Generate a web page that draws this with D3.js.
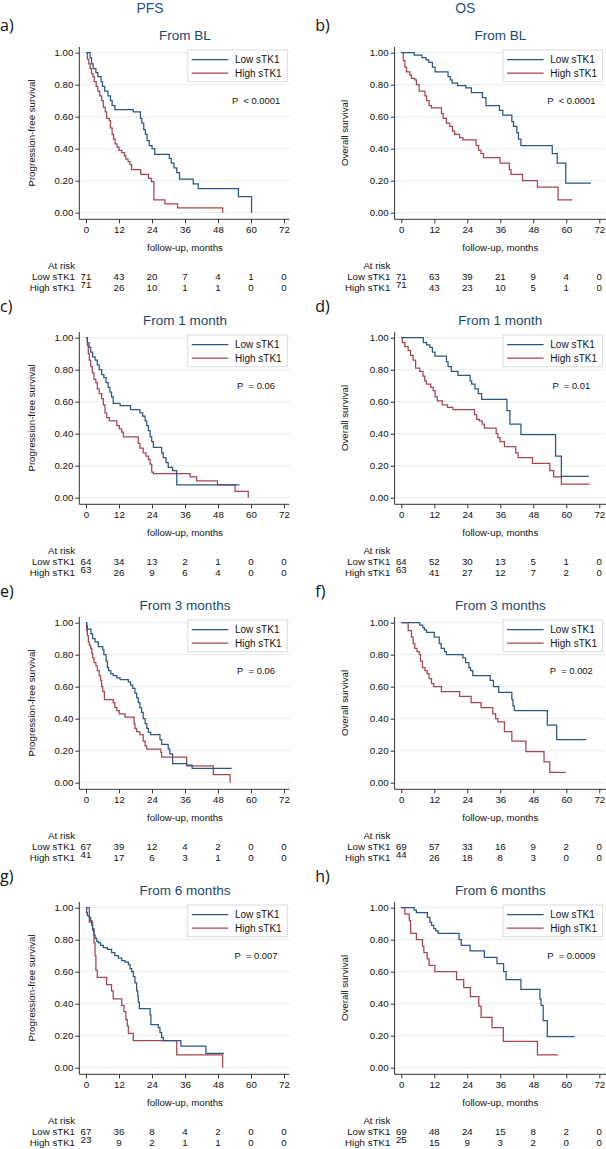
<!DOCTYPE html>
<html><head><meta charset="utf-8">
<script src="https://cdn.jsdelivr.net/npm/d3@7"></script>
<style>
html,body{margin:0;padding:0;background:#fff;}
svg{display:block;}
svg text{font-family:"Liberation Sans",Arial,Helvetica,sans-serif;}
svg text.plabel{font-family:"Open Sans","Noto Sans",sans-serif;}
</style></head>
<body>
<svg id="chart" width="606" height="1149"></svg>
<script>
// ---------- data ----------
const tickMonths = [0, 12, 24, 36, 48, 60, 72];
const yTicks = [0, 0.2, 0.4, 0.6, 0.8, 1];
const columnHeaders = ["PFS", "OS"];
const yAxisTitles = ["Progression-free survival", "Overall survival"];
const panelLabels = ["a)", "b)", "c)", "d)", "e)", "f)", "g)", "h)"];
const panelTitles = ["From BL", "From BL", "From 1 month", "From 1 month", "From 3 months", "From 3 months", "From 6 months", "From 6 months"];
const pValues = ["P\u00a0 < 0.0001", "P\u00a0 < 0.0001", "P\u00a0 = 0.06", "P\u00a0 = 0.01", "P\u00a0 = 0.06", "P\u00a0 = 0.002", "P\u00a0 = 0.007", "P\u00a0 = 0.0009"];
const groups = ["Low sTK1", "High sTK1"];

// Kaplan-Meier steps: [month, survival after step]; last pair = end of follow-up
const lowA = [[1.5,0.97],[2,0.93],[2.6,0.90],[3.6,0.875],[4.3,0.85],[5.5,0.82],[6,0.79],[6.8,0.76],[8,0.73],[8.9,0.70],[9.5,0.67],[10.5,0.645],[17.2,0.63],[19.8,0.59],[20.3,0.56],[21,0.52],[21.6,0.49],[22.2,0.45],[23,0.42],[24,0.40],[25,0.365],[30.3,0.34],[31,0.31],[32,0.28],[33,0.25],[34,0.21],[39,0.18],[40.8,0.15],[55.4,0.10],[60.2,0]];
const highA = [[0.5,0.96],[1,0.93],[1.5,0.90],[2,0.87],[2.5,0.85],[3,0.82],[3.7,0.79],[4.3,0.76],[5,0.73],[5.7,0.70],[6.3,0.66],[7,0.63],[7.5,0.59],[8.5,0.575],[8.9,0.53],[9.5,0.49],[10,0.46],[10.6,0.43],[11.3,0.41],[12,0.39],[13,0.375],[14,0.355],[14.5,0.335],[15.3,0.32],[16,0.30],[16.6,0.27],[19.9,0.24],[22.7,0.215],[23.8,0.195],[24.7,0.08],[28.7,0.055],[33.3,0.03],[49.7,0]];
const lowB = [[4.7,0.985],[7.5,0.97],[9,0.955],[10,0.94],[11.3,0.91],[12.3,0.88],[17,0.85],[17.8,0.83],[18.5,0.81],[20.5,0.795],[23.5,0.78],[25.5,0.75],[29.5,0.72],[30.8,0.67],[35.7,0.64],[36.9,0.61],[40.2,0.57],[40.8,0.54],[42,0.50],[42.6,0.46],[43.5,0.42],[54.9,0.37],[56.7,0.31],[59.8,0.185],[69,0.185]];
const highB = [[0.7,0.95],[1.3,0.91],[1.9,0.88],[3.1,0.86],[3.7,0.84],[4.9,0.83],[5.5,0.80],[6.5,0.76],[8.6,0.73],[9.2,0.70],[10.1,0.67],[11,0.655],[14.6,0.62],[15.2,0.59],[16.4,0.56],[17.6,0.54],[18.6,0.51],[19.4,0.49],[21.2,0.47],[22.4,0.455],[27.2,0.42],[28.1,0.39],[29,0.37],[29.9,0.345],[35.9,0.31],[39.3,0.27],[39.9,0.24],[44.1,0.20],[49.5,0.16],[57,0.08],[62.2,0.08]];
const lowC = [[0.5,0.97],[1.1,0.94],[1.7,0.91],[2.4,0.88],[3.3,0.86],[4.1,0.83],[4.8,0.80],[5.7,0.77],[6.5,0.75],[7.3,0.72],[8.1,0.69],[8.7,0.66],[9.3,0.63],[9.9,0.59],[12.4,0.575],[16.2,0.55],[19.6,0.53],[20.6,0.51],[21.5,0.48],[22.1,0.45],[22.7,0.42],[23.3,0.38],[23.9,0.35],[24.5,0.315],[27.5,0.28],[28.1,0.25],[29.1,0.22],[29.9,0.19],[31.5,0.17],[33,0.08],[55.8,0.08]];
const highC = [[0.5,0.95],[0.85,0.90],[1.2,0.86],[1.7,0.82],[2.3,0.78],[2.9,0.74],[3.6,0.72],[4.1,0.68],[4.8,0.65],[5.7,0.62],[6.3,0.58],[6.9,0.53],[7.5,0.50],[8.5,0.48],[11.2,0.45],[12.1,0.43],[13,0.41],[13.6,0.38],[19,0.34],[19.6,0.31],[20.8,0.28],[21.8,0.26],[22.7,0.24],[23.3,0.21],[23.9,0.16],[24.5,0.15],[37.8,0.13],[40.2,0.105],[47.8,0.08],[54.2,0.04],[59,0]];
const lowD = [[8,0.97],[9.2,0.955],[10.4,0.94],[11.3,0.91],[12.2,0.885],[16.4,0.85],[17,0.82],[18.2,0.79],[20.6,0.765],[25,0.73],[25.6,0.71],[26.8,0.68],[28,0.65],[29.2,0.615],[38.4,0.545],[39.5,0.46],[43.5,0.395],[56.1,0.26],[58.2,0.133],[68.2,0.133]];
const highD = [[0.4,0.97],[1.3,0.945],[2.5,0.92],[3.4,0.89],[4.3,0.86],[5.2,0.81],[6.7,0.79],[7.9,0.76],[8.5,0.73],[9.1,0.71],[10.7,0.69],[11.6,0.67],[12.3,0.63],[13.1,0.605],[14.9,0.58],[16.8,0.565],[18.8,0.55],[26.6,0.52],[27.4,0.49],[28.4,0.48],[29.4,0.46],[30.2,0.435],[34.5,0.40],[35.1,0.375],[35.9,0.35],[37.5,0.32],[41.6,0.28],[42.5,0.25],[47.7,0.215],[54,0.17],[55.4,0.13],[58.2,0.085],[68.5,0.085]];
const lowE = [[0.24,0.98],[0.5,0.96],[1.8,0.93],[2.4,0.90],[3.3,0.88],[4.5,0.85],[6.1,0.83],[6.5,0.80],[7.3,0.76],[7.8,0.72],[8.2,0.70],[9,0.68],[9.9,0.67],[11.2,0.655],[12.4,0.645],[15.4,0.63],[16.2,0.61],[17,0.59],[17.8,0.56],[18.4,0.53],[19,0.50],[19.6,0.47],[20.2,0.44],[20.8,0.40],[21.5,0.37],[22.1,0.34],[22.7,0.315],[23.5,0.30],[26.9,0.27],[27.5,0.24],[29.9,0.21],[30.5,0.18],[31.5,0.12],[36.6,0.11],[38.6,0.09],[53,0.09]];
const highE = [[0.24,0.95],[0.5,0.92],[0.85,0.88],[1.2,0.86],[1.7,0.84],[2.1,0.81],[2.4,0.78],[2.9,0.75],[3.6,0.73],[4.1,0.70],[4.8,0.67],[5.3,0.64],[5.7,0.60],[6.1,0.57],[6.7,0.52],[9.9,0.50],[10.5,0.47],[11.2,0.45],[12.1,0.43],[14.2,0.41],[17.5,0.37],[17.8,0.34],[18.4,0.32],[19.6,0.30],[20.8,0.26],[21.5,0.23],[22.1,0.21],[27.2,0.19],[27.5,0.16],[36.6,0.105],[46.3,0.05],[52.4,0]];
const lowF = [[6.7,0.985],[7.8,0.97],[8.4,0.955],[9.2,0.94],[12,0.91],[13.8,0.87],[14.5,0.84],[15.7,0.82],[16.4,0.80],[22.4,0.78],[23.4,0.75],[24.6,0.72],[25.2,0.70],[26,0.67],[32.3,0.64],[33.5,0.60],[35.4,0.565],[40.2,0.52],[40.6,0.48],[41.1,0.45],[53.1,0.36],[56.5,0.27],[67.2,0.27]];
const highF = [[2.5,0.95],[3.7,0.91],[4.3,0.87],[4.9,0.84],[5.7,0.82],[6.5,0.80],[7,0.76],[7.7,0.72],[8.6,0.70],[9.4,0.68],[10.1,0.65],[11,0.62],[11.8,0.60],[14.6,0.57],[21.2,0.54],[25.4,0.50],[29,0.47],[33.3,0.43],[34.3,0.40],[35.1,0.38],[37.5,0.32],[40.2,0.26],[45.3,0.195],[51.9,0.13],[54,0.065],[59.8,0.065]];
const lowG = [[0.24,0.97],[0.5,0.95],[1.2,0.94],[1.7,0.92],[2.1,0.89],[2.4,0.86],[2.9,0.83],[3.3,0.81],[3.9,0.79],[4.5,0.78],[5.3,0.765],[6.3,0.75],[7.8,0.74],[9.3,0.72],[10.5,0.70],[11.8,0.685],[13,0.67],[14.2,0.66],[15.4,0.645],[16,0.62],[16.6,0.60],[17.2,0.57],[17.8,0.53],[18.4,0.48],[18.8,0.45],[19,0.41],[19.4,0.37],[23.3,0.33],[23.6,0.27],[26.3,0.25],[26.9,0.22],[27.5,0.19],[28.1,0.17],[34.5,0.135],[43.6,0.09],[50.2,0.09]];
const highG = [[1.2,0.91],[2.4,0.87],[2.9,0.78],[3.3,0.70],[3.6,0.61],[4.1,0.565],[7.5,0.52],[9.3,0.48],[9.9,0.43],[13,0.39],[13.8,0.35],[14.5,0.30],[15,0.26],[15.4,0.215],[17.2,0.17],[33,0.08],[49.7,0]];
const lowH = [[4.7,0.985],[5.5,0.97],[9.5,0.94],[10.4,0.91],[11,0.89],[11.8,0.87],[12.5,0.855],[13.4,0.84],[21,0.80],[21.8,0.765],[25,0.73],[30.2,0.69],[34.8,0.65],[37.2,0.60],[38.1,0.55],[43.5,0.49],[50.4,0.43],[50.8,0.39],[51.6,0.295],[53.1,0.195],[63,0.195]];
const highH = [[1.3,0.96],[2.9,0.92],[3.4,0.84],[5.5,0.80],[7.7,0.76],[8.2,0.72],[9.4,0.68],[10.1,0.64],[12.2,0.60],[20.1,0.55],[22.7,0.50],[25.1,0.445],[28.2,0.385],[29,0.315],[33,0.25],[37.1,0.165],[49.5,0.08],[57,0.08]];

// numbers at risk at 0,12,...,72 months
const riskLowA = [71,43,20,7,4,1,0],  riskHighA = [71,26,10,1,1,0,0];
const riskLowB = [71,63,39,21,9,4,0], riskHighB = [71,43,23,10,5,1,0];
const riskLowC = [64,34,13,2,1,0,0],  riskHighC = [63,26,9,6,4,0,0];
const riskLowD = [64,52,30,13,5,1,0], riskHighD = [63,41,27,12,7,2,0];
const riskLowE = [67,39,12,4,2,0,0],  riskHighE = [41,17,6,3,1,0,0];
const riskLowF = [69,57,33,16,9,2,0], riskHighF = [44,26,18,8,3,0,0];
const riskLowG = [67,36,8,4,2,0,0],   riskHighG = [23,9,2,1,1,0,0];
const riskLowH = [69,48,24,15,8,2,0], riskHighH = [25,15,9,3,2,0,0];

const lowCurves = [lowA, lowB, lowC, lowD, lowE, lowF, lowG, lowH];
const highCurves = [highA, highB, highC, highD, highE, highF, highG, highH];
const riskLow = [riskLowA, riskLowB, riskLowC, riskLowD, riskLowE, riskLowF, riskLowG, riskLowH];
const riskHigh = [riskHighA, riskHighB, riskHighC, riskHighD, riskHighE, riskHighF, riskHighG, riskHighH];

// ---------- drawing ----------
const colX = [0, 315.3];
const rowY = [0, 285, 570, 855];
const colors = ["#2c5784", "#a8444f"];
const navy = "#1a476f";
const svg = d3.select("#chart");
const FS = 9.7;

columnHeaders.forEach((h, c) => {
  svg.append("text").attr("x", colX[c] + 150).attr("y", 13)
    .attr("text-anchor", "middle").attr("font-size", 14).attr("fill", "#2d5189").text(h);
});

for (let i = 0; i < 8; i++) {
  const col = i % 2, row = Math.floor(i / 2);
  const g = svg.append("g").attr("transform", `translate(${colX[col]},${rowY[row]})`);
  const x = d3.scaleLinear().domain([0, 72]).range([86, 284]);
  const y = d3.scaleLinear().domain([0, 1]).range([212.7, 52.7]);
  const axX = 79.3, axY = 219.3;

  g.append("text").attr("class", "plabel").attr("x", 0).attr("y", row === 0 ? 31 : 27)
    .attr("font-size", 16).attr("fill", "#111").text(panelLabels[i]);

  g.append("text").attr("x", 185).attr("y", 40).attr("text-anchor", "middle")
    .attr("font-size", 13.5).attr("fill", navy).text(panelTitles[i]);

  g.selectAll("line.grid").data(yTicks).join("line").attr("class", "grid")
    .attr("x1", axX + 1).attr("x2", 290).attr("y1", d => y(d)).attr("y2", d => y(d))
    .attr("stroke", "#e4ecf0").attr("stroke-width", 1);

  const ya = g.append("g").attr("transform", `translate(${axX},0)`)
    .call(d3.axisLeft(y).tickValues(yTicks).tickFormat(d3.format(".2f")).tickSize(4).tickPadding(2));
  const xa = g.append("g").attr("transform", `translate(0,${axY})`)
    .call(d3.axisBottom(x).tickValues(tickMonths).tickSize(4).tickPadding(3));
  [ya, xa].forEach(a => {
    a.attr("font-family", null).attr("font-size", null);
    a.select(".domain").remove();
    a.selectAll("text").attr("font-size", FS).attr("fill", "#111");
    a.selectAll("line").attr("stroke", "#333");
  });
  g.append("line").attr("x1", axX).attr("x2", axX).attr("y1", 47).attr("y2", axY).attr("stroke", "#333");
  g.append("line").attr("x1", axX).attr("x2", col === 0 ? 289.3 : 292).attr("y1", axY).attr("y2", axY).attr("stroke", "#333");

  g.append("text").attr("transform", `translate(${col === 0 ? 31 : 29},133) rotate(-90)`)
    .attr("text-anchor", "middle").attr("dominant-baseline", "central")
    .attr("font-size", FS).attr("fill", "#111").text(yAxisTitles[col]);
  g.append("text").attr("x", 185).attr("y", 251).attr("text-anchor", "middle")
    .attr("font-size", FS).attr("fill", "#111").text("follow-up, months");

  const line = d3.line().x(d => x(d[0])).y(d => y(d[1])).curve(d3.curveStepAfter);
  [highCurves[i], lowCurves[i]].forEach((c, k) => {
    g.append("path").attr("d", line([[0, 1], ...c])).attr("fill", "none")
      .attr("stroke", colors[1 - k]).attr("stroke-width", 1.25);
  });

  g.append("rect").attr("x", 187.7).attr("y", 50).attr("width", 99.6).attr("height", 31.7)
    .attr("fill", "#fff").attr("stroke", "#dcdcdc").attr("stroke-width", 1);
  groups.forEach((gr, k) => {
    const ly = 59.7 + k * 13.3;
    g.append("line").attr("x1", 191.7).attr("x2", 228.3).attr("y1", ly).attr("y2", ly)
      .attr("stroke", colors[k]).attr("stroke-width", 1.25);
    g.append("text").attr("x", 235).attr("y", ly).attr("dominant-baseline", "central")
      .attr("font-size", 10).attr("fill", "#111").text(gr);
  });

  g.append("text").attr("x", 256).attr("y", 103.5).attr("text-anchor", "middle")
    .attr("font-size", 9.4).attr("fill", "#111").text(pValues[i]);

  g.append("text").attr("x", 75).attr("y", 269).attr("text-anchor", "end")
    .attr("font-size", FS).attr("fill", "#111").text("At risk");
  [riskLow[i], riskHigh[i]].forEach((arr, k) => {
    const by = 279.5 + k * 11.3;
    g.append("text").attr("x", 75).attr("y", by).attr("text-anchor", "end")
      .attr("font-size", FS).attr("fill", "#111").text(groups[k]);
    g.selectAll(null).data(arr).join("text")
      .attr("x", (d, j) => x(tickMonths[j])).attr("y", (d, j) => by - (k === 1 && j === 0 ? 2.5 : 0))
      .attr("text-anchor", "middle").attr("font-size", FS).attr("fill", "#111").text(d => d);
  });
}
</script>
</body></html>
